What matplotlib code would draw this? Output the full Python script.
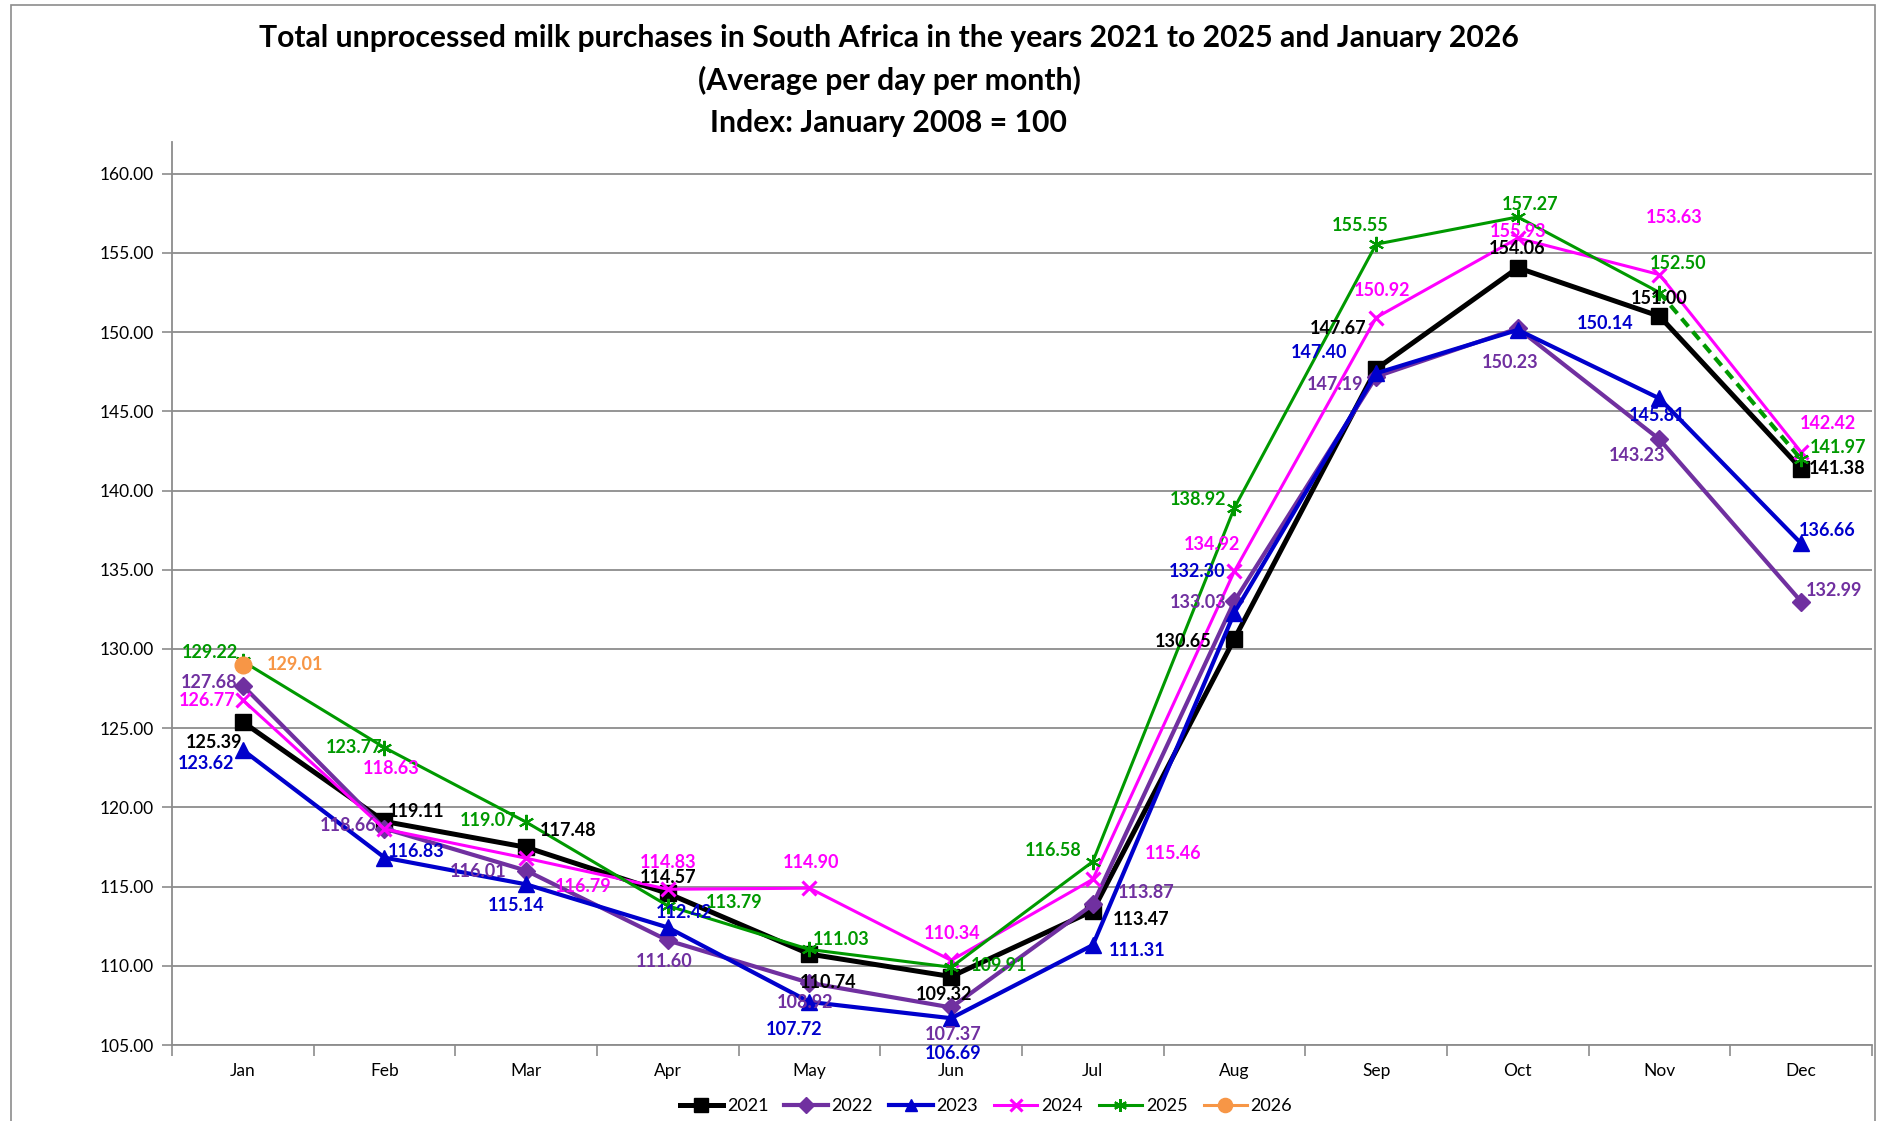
import numpy as np
import matplotlib
matplotlib.use("Agg")
import matplotlib.pyplot as plt
from matplotlib.patches import Rectangle
from matplotlib.ticker import FixedLocator, FormatStrFormatter

plt.rcParams['font.family'] = ['Lato', 'DejaVu Sans']

months = ['Jan', 'Feb', 'Mar', 'Apr', 'May', 'Jun', 'Jul', 'Aug', 'Sep', 'Oct', 'Nov', 'Dec']
y2021 = [125.39, 119.11, 117.48, 114.57, 110.74, 109.32, 113.47, 130.65, 147.67, 154.06, 151.00, 141.38]
y2022 = [127.68, 118.66, 116.01, 111.60, 108.92, 107.37, 113.87, 133.03, 147.19, 150.23, 143.23, 132.99]
y2023 = [123.62, 116.83, 115.14, 112.42, 107.72, 106.69, 111.31, 132.30, 147.40, 150.14, 145.81, 136.66]
y2024 = [126.77, 118.63, 116.79, 114.83, 114.90, 110.34, 115.46, 134.92, 150.92, 155.93, 153.63, 142.42]
y2025 = [129.22, 123.77, 119.07, 113.79, 111.03, 109.91, 116.58, 138.92, 155.55, 157.27, 152.50, 141.97]
y2026 = [129.01]

# label offsets in pixels (dx, dy screen-down) per month
off2021 = [(-29, 21), (32, -10), (42, -17), (0, -16), (19, 28), (-7, 18), (48, 9), (-51, 3), (-38, -41), (-1, -19), (0, -18), (36, 0)]
off2022 = [(-34, -3), (-36, -3), (-48, 1), (-4, 21), (-4, 20), (2, 27), (53, -12), (-36, 2), (-41, 8), (-8, 34), (-22, 16), (33, -11)]
off2023 = [(-37, 13), (32, -6), (-10, 21), (16, -15), (-15, 28), (2, 35), (44, 5), (-37, -41), (-57, -21), (87, -6), (-2, 17), (26, -13)]
off2024 = [(-36, 0), (7, -61), (57, 28), (0, -27), (2, -26), (1, -27), (80, -26), (-22, -27), (6, -27), (0, -7), (15, -57), (27, -29)]
off2025 = [(-33, -9), (-30, 0), (-38, -2), (66, -3), (32, -10), (48, -2), (-40, -11), (-36, -8), (-16, -19), (12, -12), (19, -29), (37, -12)]
off2026 = [(52, 0)]

fig = plt.figure(figsize=(18.83, 11.21), dpi=100)
fig.patches.append(Rectangle((11 / 1883, -0.05), 1864 / 1883, 1.05 - 5 / 1121,
                             transform=fig.transFigure, fill=False, edgecolor='#8c8c8c', lw=1.2))
ax = fig.add_axes([172 / 1883, 1 - 1045 / 1121, 1700 / 1883, (1045 - 142) / 1121])

x = np.arange(len(months))
series = [
    ('2021', y2021, off2021, 'black', 's', 3.6, 12, 1),
    ('2022', y2022, off2022, '#7030A0', 'D', 3.0, 9, 1),
    ('2023', y2023, off2023, '#0000CC', '^', 3.0, 11, 1),
    ('2024', y2024, off2024, '#FF00FF', 'x', 2.2, 10, 2.2),
    ('2025', y2025, off2025, '#009900', (6, 2, 0), 2.2, 11, 1.5),
    ('2026', y2026, off2026, '#F79646', 'o', 2.2, 12, 1),
]

handles = []
for i, (name, vals, offs, col, mk, lw, ms, mew) in enumerate(series):
    xs = x[:len(vals)]
    if name == '2025':
        # Dec 2025 segment is dashed
        h, = ax.plot(xs[:11], vals[:11], color=col, lw=lw, marker=mk, ms=ms, mew=mew, zorder=3 + i)
        ax.plot(xs[10:], vals[10:], color=col, lw=lw + 0.8, ls=(0, (2.5, 1.6)), zorder=3 + i)
        ax.plot(xs[11:], vals[11:], color=col, lw=0, marker=mk, ms=ms, mew=mew, zorder=3 + i)
    else:
        h, = ax.plot(xs, vals, color=col, lw=lw, marker=mk, ms=ms, mew=mew, zorder=3 + i)
    handles.append(h)
    for xi, v, (dx, dy) in zip(xs, vals, offs):
        ax.annotate(f'{v:.2f}', (xi, v), xytext=(dx, -dy), textcoords='offset pixels',
                    ha='center', va='center', color=col, fontsize=13, fontweight='bold', zorder=20)

ax.set_xlim(-0.5, 11.5)
ax.set_ylim(105, 162)
ax.set_yticks(np.arange(105, 161, 5))
ax.yaxis.set_major_formatter(FormatStrFormatter('%.2f'))
ax.set_xticks(x)
ax.set_xticklabels(months)
ax.xaxis.set_minor_locator(FixedLocator(np.arange(-0.5, 12, 1)))
ax.tick_params(axis='x', which='major', length=0, pad=13, labelsize=12.5)
ax.tick_params(axis='x', which='minor', length=8, color='#8c8c8c', width=1.2)
ax.tick_params(axis='y', length=7, color='#8c8c8c', width=1.2, labelsize=12.5, pad=6)
ax.grid(axis='y', color='#8c8c8c', lw=1.3)
ax.set_axisbelow(True)
for s in ['top', 'right']:
    ax.spines[s].set_visible(False)
for s in ['left', 'bottom']:
    ax.spines[s].set_color('#8c8c8c')
    ax.spines[s].set_linewidth(1.3)

title_lines = ['Total unprocessed milk purchases in South Africa in the years 2021 to 2025 and January 2026',
               '(Average per day per month)',
               'Index: January 2008 = 100']
for line, ypx in zip(title_lines, [38, 80, 123]):
    fig.text(889 / 1883, 1 - ypx / 1121, line, ha='center', va='center', fontsize=21.7, fontweight='bold')

fig.legend(handles, [s[0] for s in series], loc='center', bbox_to_anchor=(986 / 1883, 1 - 1106 / 1121),
           ncol=6, frameon=False, fontsize=13, handlelength=2.4, handletextpad=0.2, columnspacing=0.9,
           markerscale=0.85)

fig.savefig('out.png', dpi=100)
